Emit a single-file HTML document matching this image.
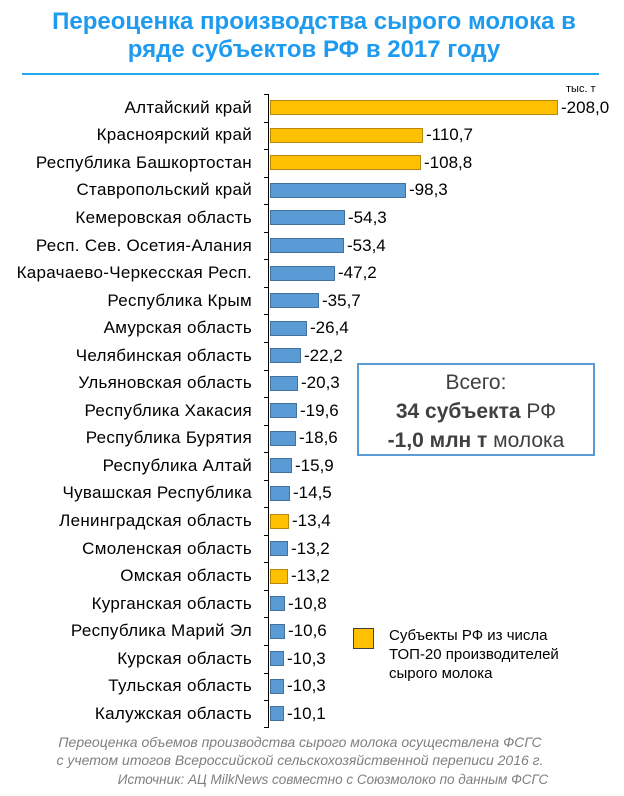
<!DOCTYPE html>
<html><head><meta charset="utf-8"><style>
body{margin:0;width:624px;height:796px;background:#fff;font-family:"Liberation Sans",sans-serif;position:relative;overflow:hidden}
.t{position:absolute;left:0;width:628px;text-align:center;color:#1E9BEF;font-weight:bold;font-size:24px;line-height:28px}
.lab{position:absolute;right:372px;font-size:17px;letter-spacing:0.3px;color:#000;white-space:nowrap;line-height:18px}
.bar{position:absolute;left:270px;height:15px;box-sizing:border-box}
.b{background:#5B9BD5;border:1px solid #41719C}
.g{background:#FFC000;border:1px solid #B8860B}
.val{position:absolute;font-size:17px;line-height:18px;color:#000}
.tk{position:absolute;left:264px;width:5px;height:1px;background:#000}
</style></head><body>
<div class="t" style="top:8px">Переоценка производства сырого молока в</div>
<div class="t" style="top:36px">ряде субъектов РФ в 2017 году</div>
<div style="position:absolute;left:22px;top:73px;width:577px;height:2px;background:#1EAAE8"></div>
<div style="position:absolute;left:566px;top:83px;font-size:11px;color:#000">тыс. т</div>
<div style="position:absolute;left:268px;top:94px;width:1px;height:634px;background:#000"></div>
<div id="c"></div>
<div style="position:absolute;left:357px;top:363px;width:238px;height:93px;box-sizing:border-box;border:2px solid #5B9BD5;text-align:center;font-size:21px;line-height:29px;color:#404040;padding-top:3px">Всего:<br><b>34 субъекта</b> РФ<br><b>-1,0 млн т</b> молока</div>
<div style="position:absolute;left:353px;top:628px;width:21px;height:21px;box-sizing:border-box;background:#FFC000;border:1px solid #404040"></div>
<div style="position:absolute;left:389px;top:626px;font-size:15px;line-height:19px;color:#000">Субъекты РФ из числа<br>ТОП-20 производителей<br>сырого молока</div>
<div style="position:absolute;left:0;width:600px;top:733px;text-align:center;font-size:14px;line-height:18px;font-style:italic;color:#7F7F7F">Переоценка объемов производства сырого молока осуществлена ФСГС<br>с учетом итогов Всероссийской сельскохозяйственной переписи 2016 г.</div>
<div style="position:absolute;left:0;width:666px;top:772px;text-align:center;font-size:13.5px;font-style:italic;color:#7F7F7F">Источник: АЦ MilkNews совместно с Союзмолоко по данным ФСГС</div>
<script>
var d=[["Алтайский край",208.0,1],["Красноярский край",110.7,1],["Республика Башкортостан",108.8,1],["Ставропольский край",98.3],["Кемеровская область",54.3],["Респ. Сев. Осетия-Алания",53.4],["Карачаево-Черкесская Респ.",47.2],["Республика Крым",35.7],["Амурская область",26.4],["Челябинская область",22.2],["Ульяновская область",20.3],["Республика Хакасия",19.6],["Республика Бурятия",18.6],["Республика Алтай",15.9],["Чувашская Республика",14.5],["Ленинградская область",13.4,1],["Смоленская область",13.2],["Омская область",13.2,1],["Курганская область",10.8],["Республика Марий Эл",10.6],["Курская область",10.3],["Тульская область",10.3],["Калужская область",10.1]];
var h="",p=27.55,t0=94;
for(var i=0;i<d.length;i++){var c=t0+p*(i+0.5),w=Math.round(d[i][1]*1.385);
h+='<div class="lab" style="top:'+(c-9)+'px">'+d[i][0]+'</div>';
h+='<div class="bar '+(d[i][2]?'g':'b')+'" style="top:'+(c-7.5)+'px;width:'+w+'px"></div>';
h+='<div class="val" style="left:'+(273+w)+'px;top:'+(c-9)+'px">-'+d[i][1].toFixed(1).replace('.',',')+'</div>';
h+='<div class="tk" style="top:'+Math.round(t0+p*i)+'px"></div>';}
h+='<div class="tk" style="top:727px"></div>';
document.getElementById("c").innerHTML=h;
</script>
</body></html>
